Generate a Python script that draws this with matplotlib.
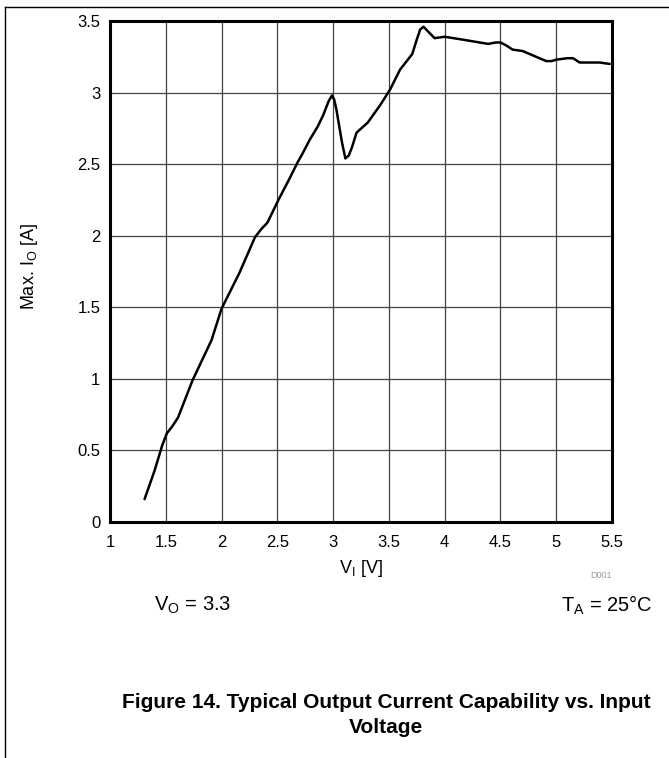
import matplotlib
matplotlib.use('Agg')
import matplotlib.pyplot as plt
from matplotlib.lines import Line2D
import numpy as np

plt.rcParams['font.family'] = ['Liberation Sans', 'DejaVu Sans']
plt.rcParams['mathtext.fontset'] = 'custom'
plt.rcParams['mathtext.rm'] = 'Liberation Sans'

# curve
vin = [1.31, 1.40, 1.47, 1.51, 1.56, 1.61, 1.74, 1.91, 2.00, 2.16, 2.30, 2.36,
       2.41, 2.51, 2.61, 2.68, 2.73, 2.79, 2.86, 2.91, 2.96, 2.99, 3.01, 3.03,
       3.08, 3.11, 3.14, 3.17, 3.21, 3.31, 3.42, 3.51, 3.60, 3.67, 3.71, 3.75,
       3.78, 3.81, 3.86, 3.91, 4.00, 4.16, 4.39, 4.46, 4.50, 4.55, 4.61, 4.70,
       4.79, 4.91, 4.96, 5.00, 5.10, 5.15, 5.21, 5.30, 5.39, 5.48]
iout = [0.16, 0.36, 0.54, 0.62, 0.67, 0.73, 0.99, 1.27, 1.49, 1.74, 1.99, 2.05,
        2.09, 2.25, 2.40, 2.51, 2.58, 2.67, 2.76, 2.84, 2.94, 2.98, 2.95, 2.88,
        2.65, 2.54, 2.56, 2.62, 2.72, 2.79, 2.91, 3.02, 3.16, 3.23, 3.27, 3.37,
        3.44, 3.46, 3.42, 3.38, 3.39, 3.37, 3.34, 3.35, 3.35, 3.33, 3.30, 3.29,
        3.26, 3.22, 3.22, 3.23, 3.24, 3.24, 3.21, 3.21, 3.21, 3.20]

xticks = [1, 1.5, 2, 2.5, 3, 3.5, 4, 4.5, 5, 5.5]
xticklabels = ['1', '1.5', '2', '2.5', '3', '3.5', '4', '4.5', '5', '5.5']
yticks = [0, 0.5, 1, 1.5, 2, 2.5, 3, 3.5]
yticklabels = ['0', '0.5', '1', '1.5', '2', '2.5', '3', '3.5']

fig = plt.figure(figsize=(6.69, 7.58), dpi=100)
ax = fig.add_axes([0.1644, 0.3113, 0.7504, 0.661])

ax.plot(vin, iout, color='black', lw=1.8, solid_joinstyle='round',
        solid_capstyle='round', zorder=3)

ax.set_xlim(1, 5.5)
ax.set_ylim(0, 3.5)
ax.set_xticks(xticks)
ax.set_xticklabels(xticklabels)
ax.set_yticks(yticks)
ax.set_yticklabels(yticklabels)
ax.tick_params(length=0, labelsize=12)
ax.tick_params(axis='x', pad=9)
ax.tick_params(axis='y', pad=7)
ax.grid(True, color='#444444', lw=0.9)
for s in ax.spines.values():
    s.set_linewidth(2.2)

ax.set_xlabel(r'V$_\mathregular{I}$ [V]', fontsize=13)
ax.set_ylabel(r'Max. I$_\mathregular{O}$ [A]', fontsize=13)
ax.xaxis.set_label_coords(0.5, -0.071)
ax.yaxis.set_label_coords(-0.14, 0.51)

fig.text(0.230, 0.201, r'V$_\mathregular{O}$ = 3.3', fontsize=14.5, va='center', ha='left')
fig.text(0.976, 0.201, r'T$_\mathregular{A}$ = 25°C', fontsize=14.5, va='center', ha='right')
fig.text(0.915, 0.241, 'D001', fontsize=6.5, color='#999999', ha='right', va='center')

fig.text(0.577, 0.0567, 'Figure 14. Typical Output Current Capability vs. Input\nVoltage',
         fontsize=15, fontweight='bold', ha='center', va='center', linespacing=1.45)

# page frame lines
fig.add_artist(Line2D([0.0075, 1.0], [0.9908, 0.9908], color='black', lw=1))
fig.add_artist(Line2D([0.0075, 0.0075], [0.0, 0.9908], color='black', lw=1))

fig.savefig('out.png', dpi=100)
